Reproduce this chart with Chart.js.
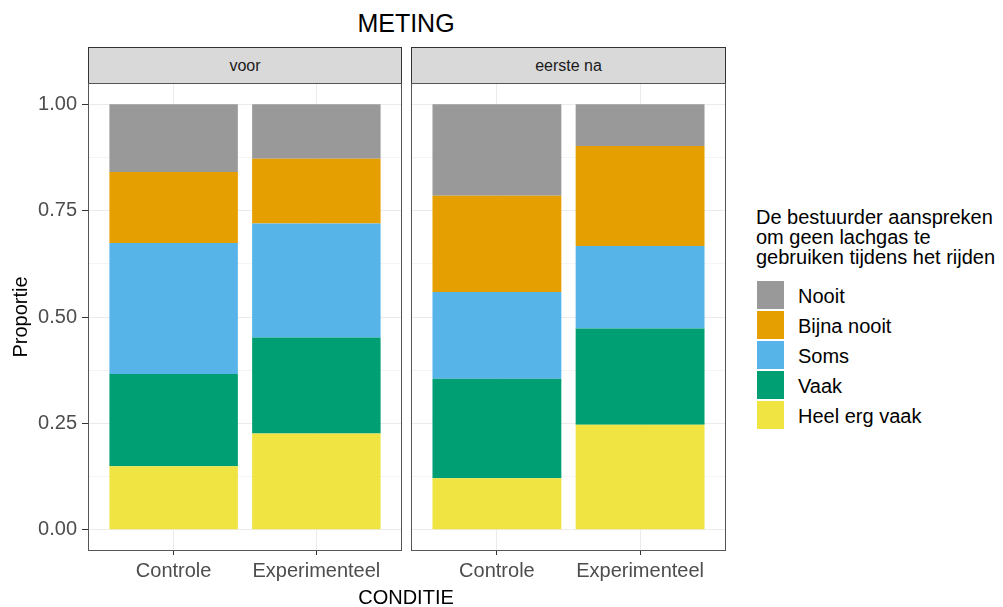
<!DOCTYPE html>
<html>
<head>
<meta charset="utf-8">
<script src="https://cdn.jsdelivr.net/npm/chart.js@4.4.0/dist/chart.umd.min.js"></script>
<style>
  body { margin: 0; background: #fff; font-family: "Liberation Sans", Arial, sans-serif; }
  #wrap { position: relative; width: 1003px; height: 607px; overflow: hidden; }
  .abs { position: absolute; white-space: nowrap; }
  .strip { position: absolute; top: 47px; height: 37px; background: #d9d9d9; border: 1px solid #333;
           box-sizing: border-box; text-align: center; line-height: 35px; font-size: 16px; color: #1a1a1a; }
  canvas { position: absolute; top: 83px; }
</style>
</head>
<body>
<div id="wrap">
  <div class="abs" style="left:306px;width:200px;top:11px;font-size:25px;line-height:25px;text-align:center;color:#000;">METING</div>
  <div class="strip" id="strip0" style="left:88px;width:314px;"></div>
  <div class="strip" id="strip1" style="left:411px;width:315px;"></div>
  <canvas id="panel0" width="402" height="524" style="left:0px;"></canvas>
  <canvas id="panel1" width="315" height="524" style="left:411px;"></canvas>
  <div class="abs" style="left:-30px;top:307px;width:100px;font-size:20px;line-height:20px;text-align:center;color:#000;transform:rotate(-90deg);">Proportie</div>
  <div class="abs" style="left:306px;width:200px;top:587px;font-size:20px;line-height:20px;text-align:center;color:#000;">CONDITIE</div>
  <div id="legend"></div>
</div>
<script>
// facets (METING) and x categories (CONDITIE)
const facets = ['voor', 'eerste na'];
const categories = ['Controle', 'Experimenteel'];

// proportions per bar: voor-Controle, voor-Experimenteel, eerste na-Controle, eerste na-Experimenteel
const nooit       = [0.159, 0.128, 0.215, 0.098];
const bijnaNooit  = [0.167, 0.152, 0.226, 0.235];
const soms        = [0.308, 0.268, 0.204, 0.194];
const vaak        = [0.217, 0.226, 0.234, 0.226];
const heelErgVaak = [0.149, 0.226, 0.121, 0.247];

const levels = ['Nooit', 'Bijna nooit', 'Soms', 'Vaak', 'Heel erg vaak'];
const levelValues = [nooit, bijnaNooit, soms, vaak, heelErgVaak];
const levelColors = ['#999999', '#E69F00', '#56B4E9', '#009E73', '#F0E442'];

const yTicks = [0, 0.25, 0.5, 0.75, 1];
const yMinor = [0.125, 0.375, 0.625, 0.875];

const legendTitle = ['De bestuurder aanspreken', 'om geen lachgas te', 'gebruiken tijdens het rijden'];

Chart.defaults.font.family = '"Liberation Sans", Arial, sans-serif';
Chart.defaults.font.size = 20;
Chart.defaults.color = '#4d4d4d';

const panelBorder = {
    id: 'panelBorder',
    afterDraw(chart) {
        const { ctx, chartArea: a } = chart;
        ctx.save();
        ctx.strokeStyle = '#555';
        ctx.lineWidth = 1;
        ctx.strokeRect(a.left + 0.5, a.top + 0.5, a.right - a.left - 1, a.bottom - a.top - 1);
        ctx.restore();
    }
};

function makePanel(f) {
    const showY = f === 0;
    document.getElementById('strip' + f).textContent = facets[f];

    // bottom of the stack first (Heel erg vaak), top last (Nooit)
    const datasets = levels.map((lvl, k) => ({
        label: lvl,
        data: categories.map((c, i) => ({ x: i + 1, y: levelValues[k][f * 2 + i] })),
        backgroundColor: levelColors[k],
        borderWidth: 0,
        barPercentage: 0.9,
        categoryPercentage: 1.0
    })).reverse();

    return new Chart(document.getElementById('panel' + f), {
        type: 'bar',
        data: { datasets },
        options: {
            responsive: false,
            animation: false,
            layout: { padding: 0 },
            plugins: { legend: { display: false }, tooltip: { enabled: false } },
            scales: {
                x: {
                    type: 'linear',
                    stacked: true,
                    offset: false,
                    min: 0.4,
                    max: 2.6,
                    afterBuildTicks: s => { s.ticks = categories.map((c, i) => ({ value: i + 1 })); },
                    afterFit: s => { s.height = 56; s.paddingLeft = 0; s.paddingRight = 0; },
                    ticks: {
                        autoSkip: false,
                        maxRotation: 0,
                        padding: 4,
                        color: '#4d4d4d',
                        callback: v => categories[v - 1]
                    },
                    grid: { offset: false, color: '#ebebeb', tickColor: '#333', tickLength: 4 },
                    border: { display: false }
                },
                y: {
                    stacked: true,
                    min: -0.05,
                    max: 1.05,
                    afterBuildTicks: s => {
                        s.ticks = yTicks.concat(yMinor).sort((a, b) => a - b).map(v => ({ value: v }));
                    },
                    afterFit: s => { s.width = showY ? 88 : 0; s.paddingTop = 0; s.paddingBottom = 0; },
                    ticks: {
                        display: showY,
                        autoSkip: false,
                        padding: 5,
                        color: '#4d4d4d',
                        callback: v => yTicks.includes(v) ? v.toFixed(2) : ''
                    },
                    grid: {
                        color: c => yTicks.includes(c.tick.value) ? '#ebebeb' : '#f4f4f4',
                        drawTicks: showY,
                        tickLength: 6,
                        tickColor: c => yTicks.includes(c.tick.value) ? '#333' : 'rgba(0,0,0,0)'
                    },
                    border: { display: false }
                }
            }
        },
        plugins: [panelBorder]
    });
}

facets.forEach((_, f) => makePanel(f));

// legend
const legend = document.getElementById('legend');
legendTitle.forEach((line, i) => {
    const d = document.createElement('div');
    d.className = 'abs';
    d.style.cssText = `left:756px;top:${207 + i * 20}px;font-size:20px;line-height:20px;color:#000;`;
    d.textContent = line;
    legend.appendChild(d);
});
levels.forEach((lvl, k) => {
    const top = 281 + k * 30;
    const box = document.createElement('div');
    box.className = 'abs';
    box.style.cssText = `left:757px;top:${top}px;width:27px;height:28px;background:${levelColors[k]};`;
    legend.appendChild(box);
    const t = document.createElement('div');
    t.className = 'abs';
    t.style.cssText = `left:798px;top:${top + 5}px;font-size:20px;line-height:20px;color:#000;`;
    t.textContent = lvl;
    legend.appendChild(t);
});
</script>
</body>
</html>
